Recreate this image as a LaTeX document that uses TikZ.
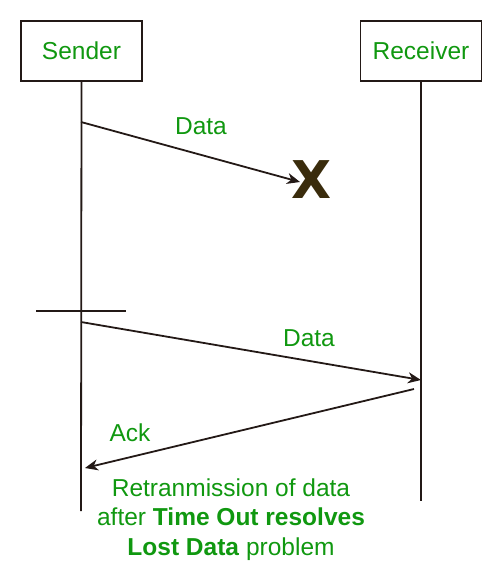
\documentclass[tikz,border=0pt]{standalone}
\usepackage{fontspec}
\setmainfont{Liberation Sans}
\newfontfamily\xfont{DejaVu Sans}
\usetikzlibrary{arrows.meta}
\definecolor{lbl}{RGB}{16,152,16}
\definecolor{ink}{RGB}{35,25,22}
\definecolor{xmark}{RGB}{58,44,12}
\begin{document}
\begin{tikzpicture}[x=1pt,y=-1pt,
  every node/.style={font=\fontsize{24.5}{29.5}\selectfont},
  actor/.style={draw=ink,line width=1.8pt,minimum width=121pt,minimum height=60pt,inner sep=0pt,text=lbl,text height=17.5pt,text depth=0pt},
  lifeline/.style={draw=ink,line width=1.8pt},
  msg/.style={draw=ink,line width=1.8pt,-{Stealth[length=13pt,width=11pt,inset=4pt]}},
  lbltext/.style={text=lbl,inner sep=0pt,anchor=base}]
\useasboundingbox (0,0) rectangle (502,582);
\node[actor] (snd) at (81.5,51) {Sender};
\node[actor] (rcv) at (421,51) {Receiver};
\coordinate (sEnd) at (81,511);
\coordinate (rEnd) at (421,501);
\draw[lifeline] (snd.south) -- (sEnd);
\draw[lifeline] (rcv.south) -- (rEnd);
% lost data
\coordinate (d1s) at (81,122);
\node[text=xmark,inner sep=0pt,anchor=base,font=\fontsize{52}{52}\xfont\bfseries\selectfont] (x) at (311.5,198) {X};
\coordinate (d1e) at (300,182);
\draw[msg] (d1s) -- (d1e);
\node[lbltext] (l1) at (201,134) {Data};
% timeout mark
\coordinate (t1) at (36,311);
\coordinate (t2) at (126,311);
\draw[draw=ink,line width=1.5pt] (t1) -- (t2);
% retransmission
\coordinate (d2s) at (81,322);
\coordinate (d2e) at (421,380);
\draw[msg] (d2s) -- (d2e);
\node[lbltext] (l2) at (309,346) {Data};
% ack
\coordinate (as) at (414,389);
\coordinate (ae) at (85,468);
\draw[msg] (as) -- (ae);
\node[lbltext] (l3) at (130,441) {Ack};
% caption
\node[lbltext] (c1) at (231,496) {Retranmission of data};
\node[lbltext] (c2) at (231,525.5) {after \textbf{Time Out resolves}};
\node[lbltext] (c3) at (231,555) {\textbf{Lost Data} problem};
\end{tikzpicture}
\end{document}
